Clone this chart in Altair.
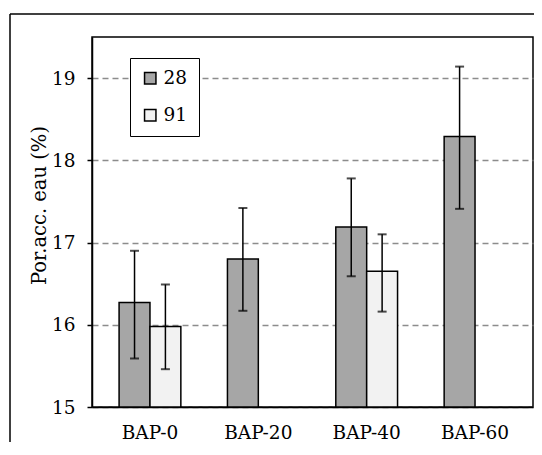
import altair as alt
import pandas as pd

categories = ["BAP-0", "BAP-20", "BAP-40", "BAP-60"]
series = ["28", "91"]
mean_28 = [16.27, 16.80, 17.19, 18.29]
low_28 = [15.59, 16.17, 16.59, 17.41]
high_28 = [16.90, 17.42, 17.78, 19.14]
mean_91 = [15.98, None, 16.65, None]
low_91 = [15.46, None, 16.16, None]
high_91 = [16.49, None, 17.10, None]
y_ticks = [15, 16, 17, 18, 19]
y_base = 15

rows = []
for s, m, lo, hi in [("28", mean_28, low_28, high_28), ("91", mean_91, low_91, high_91)]:
    for c, mv, lv, hv in zip(categories, m, lo, hi):
        if mv is not None:
            rows.append({"cat": c, "series": s, "mean": mv, "low": lv, "high": hv, "base": y_base})
df = pd.DataFrame(rows)

FONT = "DejaVu Serif"
FS = 18.5
W, H = 441, 370
PAD_L = 84

x_enc = alt.X("cat:N", sort=categories, title=None,
              scale=alt.Scale(paddingInner=0.43, paddingOuter=0.25),
              axis=alt.Axis(labelAngle=0, ticks=False, labelPadding=16, domainColor="black",
                            domainWidth=1.5, labelFontSize=FS, labelFont=FONT, labelColor="black"))
xo_enc = alt.XOffset("series:N", sort=series, scale=alt.Scale(paddingInner=0, paddingOuter=0))

y_scale = alt.Scale(domain=[15, 19.5], nice=False, zero=False)

one = alt.Data(values=[{"a": 1}])
frame_top = alt.Chart(one).mark_rule(color="black", strokeWidth=1.5).encode(
    x=alt.value(2 - PAD_L), x2=alt.value(W + 1), y=alt.value(-23))
frame_left = alt.Chart(one).mark_rule(color="black", strokeWidth=1.5).encode(
    x=alt.value(2 - PAD_L), y=alt.value(-23), y2=alt.value(H + 35))

bars = alt.Chart(df).mark_bar(stroke="black", strokeWidth=1.5).encode(
    x=x_enc,
    xOffset=xo_enc,
    y=alt.Y("mean:Q", title="Por.acc. eau (%)", scale=y_scale,
            axis=alt.Axis(values=y_ticks, format="d", tickSize=5, tickColor="black", tickWidth=1.5,
                          domainColor="black", domainWidth=1.5, labelPadding=12,
                          labelFontSize=FS, labelFont=FONT, labelColor="black",
                          grid=True, gridDash=[6, 4], gridColor="#8c8c8c", gridWidth=1.5,
                          titleFont=FONT, titleFontSize=19.5, titleFontWeight="normal",
                          titleColor="black", titleX=-53, titleY=168, titleAngle=-90,
                          titleAlign="center", titleBaseline="middle")),
    y2=alt.Y2("base:Q"),
    color=alt.Color("series:N", sort=series,
                    scale=alt.Scale(domain=series, range=["#a6a6a6", "#f2f2f2"]),
                    legend=alt.Legend(title=None, orient="none", legendX=38, legendY=21,
                                      symbolType="square", symbolSize=130,
                                      symbolStrokeColor="black", symbolStrokeWidth=1.5,
                                      labelFont=FONT, labelFontSize=FS, labelColor="black",
                                      strokeColor="black", fillColor="white", padding=11,
                                      rowPadding=18, labelOffset=4)),
)

rules = alt.Chart(df).mark_rule(color="black", strokeWidth=1.5).encode(
    x=alt.X("cat:N", sort=categories),
    xOffset=xo_enc,
    y="low:Q",
    y2="high:Q",
)

caps_lo = alt.Chart(df).mark_tick(color="black", thickness=2, size=9).encode(
    x=alt.X("cat:N", sort=categories),
    xOffset=xo_enc,
    y="low:Q",
)
caps_hi = alt.Chart(df).mark_tick(color="black", thickness=2, size=9).encode(
    x=alt.X("cat:N", sort=categories),
    xOffset=xo_enc,
    y="high:Q",
)

chart = alt.layer(frame_top, frame_left, bars, rules, caps_lo, caps_hi).properties(
    width=W, height=H,
    autosize=alt.AutoSizeParams(type="none"),
    padding={"left": PAD_L, "top": 29, "right": 1, "bottom": 35},
    background="white",
).configure_view(stroke="black", strokeWidth=1.5)

chart.save("out.html", embed_options={"renderer": "svg", "actions": False})
